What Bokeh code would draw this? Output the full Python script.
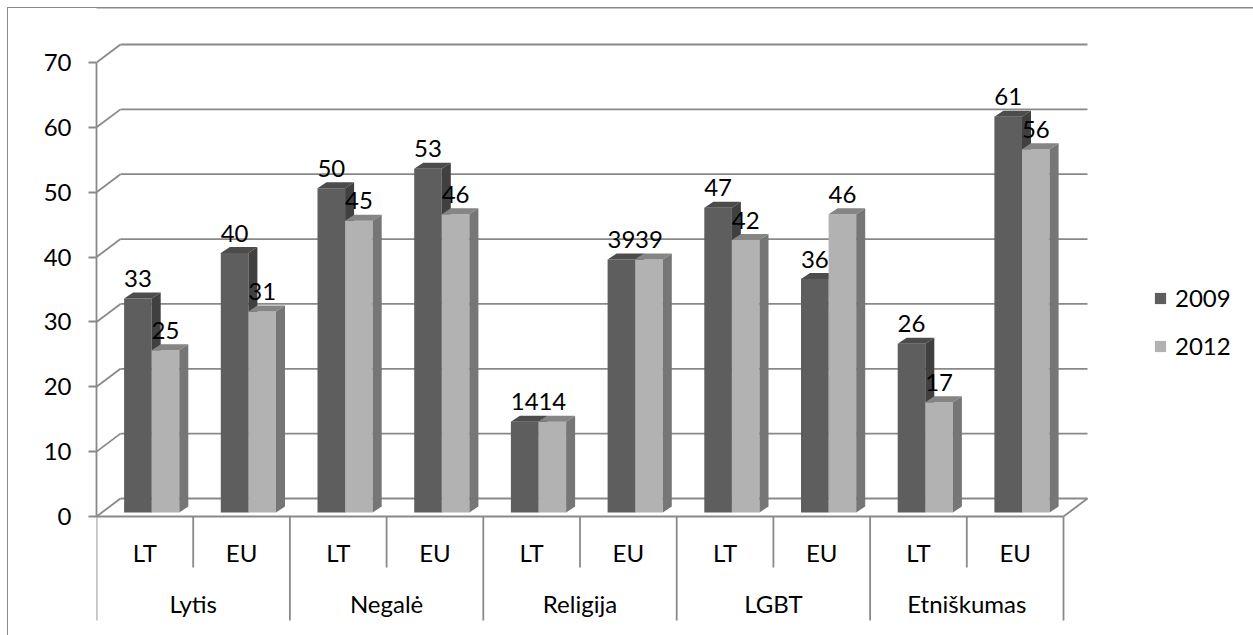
from bokeh.plotting import figure
from bokeh.models import (Legend, LegendItem, ColumnDataSource, Range1d,
                          FixedTicker, BoxAnnotation)
from bokeh.core.properties import value
from bokeh.embed import file_html
from bokeh.resources import INLINE

# ---------------- data ----------------
groups = ["Lytis", "Negalė", "Religija", "LGBT", "Etniškumas"]
subgroups = ["LT", "EU"]
series_names = ["2009", "2012"]
values_2009 = [33, 40, 50, 53, 14, 39, 47, 36, 26, 61]
values_2012 = [25, 31, 45, 46, 14, 39, 42, 46, 17, 56]
y_ticks = [0, 10, 20, 30, 40, 50, 60, 70]

# ---------------- geometry / style ----------------
W, H = 1253, 635
LEFT = 96
PX_CAT = 96.7            # pixels per category
PX_UNIT = 454.0 / 70.0   # pixels per value unit
ZERO_PX = 119            # zero line distance from bottom of frame

def cx(px):
    return px / PX_CAT

def cy(px):
    return px / PX_UNIT

FONT = "Lato"
FSIZE = "24px"
GRID = "#898989"
BORDER = "#8a8a8a"
LW = 1.8

wall_dx, wall_dy = cx(24), cy(18)
bar_off, bar_w = cx(27.6), cx(27.6)
bar_base = cy(4)
dep_dx, dep_dy = cx(9), cy(6)
label_gap = cy(20)

colors = {
    "2009": ("#5e5e5e", "#4c4c4c", "#404040"),
    "2012": ("#b2b2b2", "#858585", "#767676"),
}

n_cat = len(values_2009)
n_sub = len(subgroups)

p = figure(width=W, height=H, output_backend="svg", toolbar_location=None,
           x_axis_type=None, min_border_left=LEFT, min_border_right=0,
           min_border_top=0, min_border_bottom=0,
           x_range=Range1d(0, cx(W - LEFT)),
           y_range=Range1d(-cy(ZERO_PX), cy(H - ZERO_PX)),
           styles={"box-shadow": "inset 7px 7px 0 0 #ffffff, inset 8px 8px 0 0 " + BORDER,
                   "background-color": "#ffffff"})
p.outline_line_color = None
p.ygrid.visible = False
p.background_fill_alpha = 0
p.border_fill_alpha = 0

# chart-area border (top edge inside the frame)
p.add_layout(BoxAnnotation(left=7.5, top=7.5, right=W + 20, bottom=H + 20,
                           left_units="canvas", right_units="canvas",
                           top_units="canvas", bottom_units="canvas",
                           fill_alpha=0, line_color=BORDER, line_width=1,
                           line_alpha=1))

# y axis
ax = p.yaxis[0]
ax.ticker = FixedTicker(ticks=y_ticks)
ax.bounds = (y_ticks[0], y_ticks[-1])
ax.axis_line_color = GRID
ax.axis_line_width = LW
ax.major_tick_line_color = GRID
ax.major_tick_line_width = LW
ax.major_tick_out = 8
ax.major_tick_in = 0
ax.minor_tick_line_color = None
ax.major_label_standoff = 17
ax.major_label_text_font = FONT
ax.major_label_text_font_size = FSIZE
ax.major_label_text_color = "black"

# walls: side diagonals and back gridlines
nt = len(y_ticks)
p.segment(x0=[0] * nt, y0=y_ticks, x1=[wall_dx] * nt,
          y1=[t + wall_dy for t in y_ticks], line_color=GRID, line_width=LW)
p.segment(x0=[wall_dx] * nt, y0=[t + wall_dy for t in y_ticks],
          x1=[n_cat + wall_dx] * nt, y1=[t + wall_dy for t in y_ticks],
          line_color=GRID, line_width=LW)
# floor edges
p.segment(x0=[0, n_cat], y0=[0, 0], x1=[n_cat, n_cat + wall_dx], y1=[0, wall_dy],
          line_color=GRID, line_width=LW)

# category axis separators
sub_sep = [g * n_sub + k for g in range(len(groups)) for k in range(1, n_sub)]
grp_sep = [g * n_sub for g in range(len(groups) + 1)]
p.segment(x0=sub_sep, y0=[0] * len(sub_sep), x1=sub_sep,
          y1=[-cy(51)] * len(sub_sep), line_color=GRID, line_width=LW)
p.segment(x0=grp_sep, y0=[0] * len(grp_sep), x1=grp_sep,
          y1=[-cy(104)] * len(grp_sep), line_color=GRID, line_width=LW)

# category labels
sub_x = [i + 0.5 for i in range(n_cat)]
sub_t = [subgroups[i % n_sub] for i in range(n_cat)]
p.text(x=sub_x, y=[-cy(36)] * n_cat, text=sub_t, text_align="center",
       text_baseline="middle", text_font=value(FONT), text_font_size=FSIZE,
       text_color="black")
grp_x = [g * n_sub + n_sub / 2 for g in range(len(groups))]
p.text(x=grp_x, y=[-cy(87)] * len(groups), text=groups, text_align="center",
       text_baseline="middle", text_font=value(FONT), text_font_size=FSIZE,
       text_color="black")

# bars
legend_items = []
for s, (name, vals) in enumerate(zip(series_names, [values_2009, values_2012])):
    front_c, top_c, side_c = colors[name]
    L = [i + bar_off + s * bar_w for i in range(n_cat)]
    R = [l + bar_w for l in L]
    T = [v + bar_base for v in vals]
    src = ColumnDataSource(dict(left=L, right=R, top=T, bottom=[bar_base] * n_cat))
    r = p.quad(left="left", right="right", top="top", bottom="bottom", source=src,
               fill_color=front_c, line_color=None)
    legend_items.append(LegendItem(label=name, renderers=[r]))
    top_xs = [[l, rr, rr + dep_dx, l + dep_dx] for l, rr in zip(L, R)]
    top_ys = [[t, t, t + dep_dy, t + dep_dy] for t in T]
    p.patches(xs=top_xs, ys=top_ys, fill_color=top_c, line_color=None)
    side_xs = [[rr, rr + dep_dx, rr + dep_dx, rr] for rr in R]
    side_ys = [[bar_base, bar_base + dep_dy, t + dep_dy, t] for t in T]
    p.patches(xs=side_xs, ys=side_ys, fill_color=side_c, line_color=None)

# data labels
for s, vals in enumerate([values_2009, values_2012]):
    xs = [i + bar_off + s * bar_w + bar_w / 2 for i in range(n_cat)]
    ys = [v + bar_base + label_gap for v in vals]
    p.text(x=xs, y=ys, text=[str(v) for v in vals], text_align="center",
           text_baseline="alphabetic", text_font=value(FONT),
           text_font_size=FSIZE, text_color="black")

legend = Legend(items=legend_items, location=(1057, 275),
                glyph_width=14, glyph_height=14, label_standoff=8,
                spacing=19, padding=0, margin=0,
                border_line_alpha=0, background_fill_alpha=0,
                label_text_font=FONT, label_text_font_size=FSIZE,
                label_text_color="black")
p.add_layout(legend)

open("out.html", "w").write(file_html(p, INLINE))
